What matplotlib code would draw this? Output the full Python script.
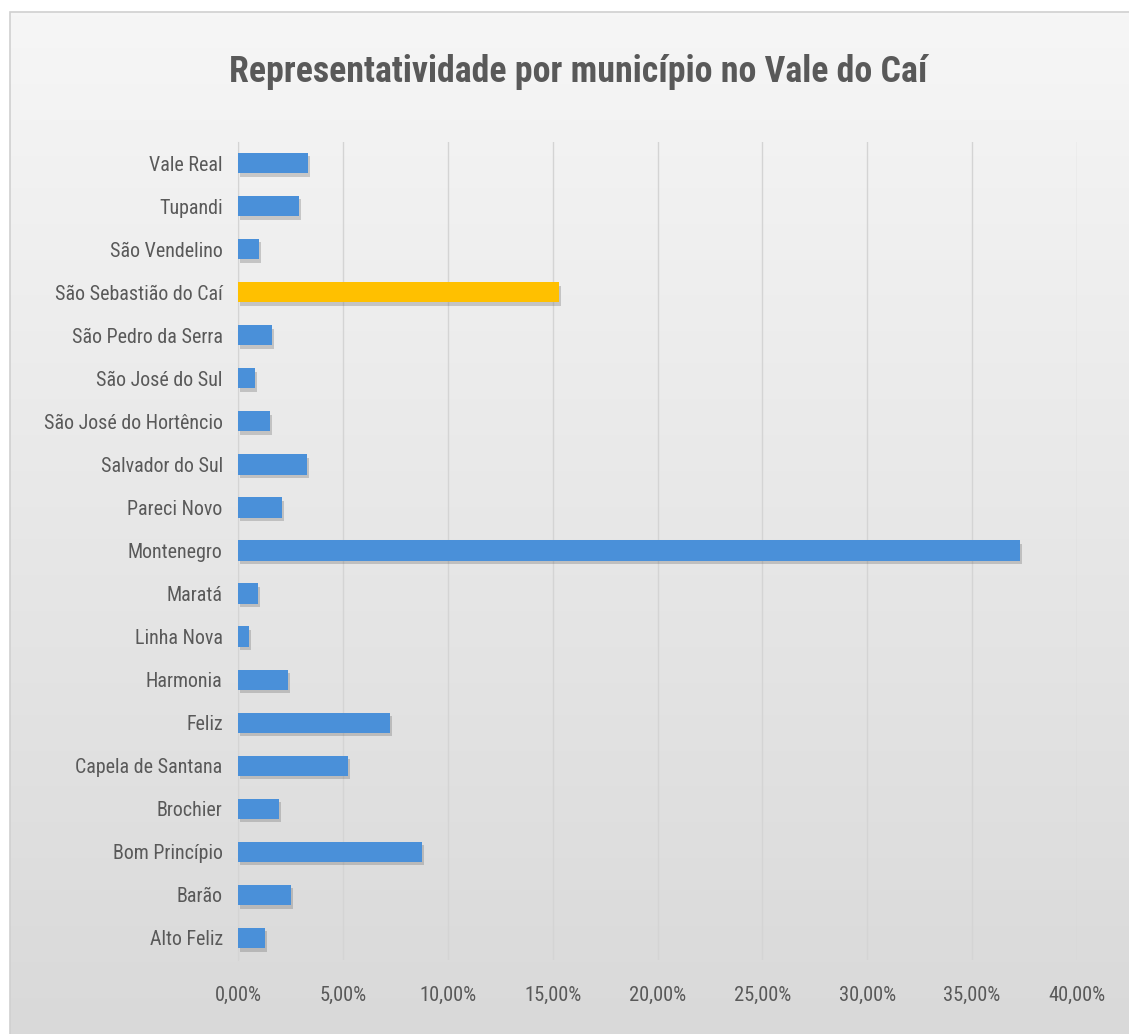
import numpy as np
import matplotlib
matplotlib.use("Agg")
import matplotlib.pyplot as plt
from matplotlib import font_manager
import matplotlib.patheffects as pe
from matplotlib.ticker import FuncFormatter, MultipleLocator
from matplotlib.patches import Rectangle
from matplotlib.colors import LinearSegmentedColormap

municipios = ["Alto Feliz", "Barão", "Bom Princípio", "Brochier", "Capela de Santana",
              "Feliz", "Harmonia", "Linha Nova", "Maratá", "Montenegro", "Pareci Novo",
              "Salvador do Sul", "São José do Hortêncio", "São José do Sul",
              "São Pedro da Serra", "São Sebastião do Caí", "São Vendelino", "Tupandi",
              "Vale Real"]
valores = [1.28, 2.52, 8.78, 1.95, 5.23, 7.25, 2.38, 0.53, 0.93, 37.27, 2.08,
           3.27, 1.52, 0.82, 1.62, 15.31, 0.98, 2.89, 3.33]
destaque = "São Sebastião do Caí"
titulo = "Representatividade por município no Vale do Caí"

names = {f.name for f in font_manager.fontManager.ttflist}
fam = "Lato"
for cand in ["Roboto Condensed", "Open Sans Condensed", "Liberation Sans Narrow", "Lato"]:
    if cand in names:
        fam = cand
        break
narrow = fam != "Lato"
plt.rcParams["font.family"] = [fam, "DejaVu Sans"]

W, H = 1129, 1034
fig = plt.figure(figsize=(W / 100, H / 100), dpi=100)

# background gradient and frame
bg = fig.add_axes([0, 0, 1, 1], zorder=-10)
grad = np.linspace(0, 1, 256).reshape(-1, 1)
cmap = LinearSegmentedColormap.from_list("g", ["#f6f6f6", "#d9d9d9"])
bg.imshow(grad, aspect="auto", cmap=cmap, extent=[10 / W, 1, 0, 1 - 12 / H], origin="upper")
bg.add_patch(Rectangle((10 / W, -0.01), 1, 1 - 12 / H + 0.01, fill=False,
                       edgecolor="#d0d0d0", linewidth=1.2, zorder=5))
bg.set_xlim(0, 1)
bg.set_ylim(0, 1)
bg.axis("off")

ax = fig.add_axes([238 / W, 74.5 / H, (1077 - 238) / W, (959.5 - 141.5) / H])
ax.set_facecolor("none")
y = np.arange(len(municipios))
colors = ["#ffc000" if m == destaque else "#4a90d9" for m in municipios]
bars = ax.barh(y, valores, height=0.47, color=colors, zorder=3)
for b in bars:
    b.set_path_effects([pe.SimplePatchShadow(offset=(1.5, -2.5), shadow_rgbFace="#666666", alpha=0.3),
                        pe.Normal()])

ax.set_xlim(0, 40)
ax.set_ylim(-0.5, len(municipios) - 0.5)
ax.xaxis.set_major_locator(MultipleLocator(5))
ax.xaxis.set_major_formatter(FuncFormatter(lambda v, p: f"{v:.2f}%".replace(".", ",")))
ax.set_yticks(y)
ax.set_yticklabels(municipios)
ax.grid(axis="x", color="#d4d4d4", linewidth=1, zorder=0)
for s in ["top", "right", "bottom"]:
    ax.spines[s].set_visible(False)
ax.spines["left"].set_color("#d4d4d4")
ax.tick_params(axis="both", length=0, labelcolor="#595959")
ax.tick_params(axis="y", labelsize=14.4 if narrow else 13, pad=11)
ax.tick_params(axis="x", labelsize=14.8 if narrow else 13, pad=19)

fig.text(578 / W, 1 - 72 / H, titulo, ha="center", va="center",
         fontsize=25.8 if narrow else 22, fontweight="bold", color="#595959")

fig.savefig("out.png", dpi=100)
